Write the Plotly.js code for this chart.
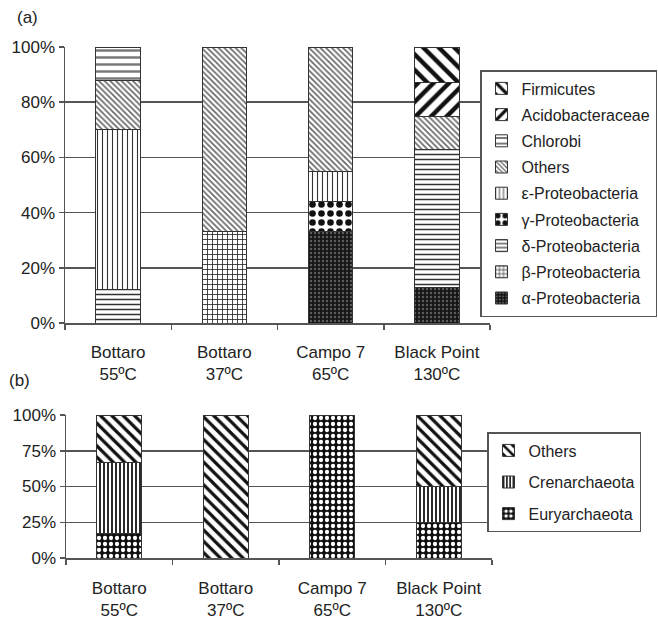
<!DOCTYPE html>
<html>
<head>
<meta charset="utf-8">
<script src="https://cdn.plot.ly/plotly-3.0.1.min.js"></script>
<style>html,body{margin:0;padding:0;background:#fff;}#chart{width:658px;height:621px;}</style>
</head>
<body>
<div id="chart"></div>
<script>
// ---------- data ----------
const categories = ['Bottaro<br>55ºC', 'Bottaro<br>37ºC', 'Campo 7<br>65ºC', 'Black Point<br>130ºC'];

// panel (a): bacteria, stacked bottom -> top
const alphaProteo   = [null, null, 33, 13];
const betaProteo    = [null, 33, null, null];
const deltaProteo   = [12, null, null, 50];
const gammaProteo   = [null, null, 11, null];
const epsilonProteo = [58, null, 11, null];
const othersA       = [18, 67, 45, 12];
const chlorobi      = [12, null, null, null];
const acidobact     = [null, null, null, 12];
const firmicutes    = [null, null, null, 13];

// panel (b): archaea, stacked bottom -> top
const euryarchaeota = [17, null, 100, 25];
const crenarchaeota = [50, null, null, 25];
const othersB       = [33, 100, null, 50];

const yTickValsA = [0, 20, 40, 60, 80, 100];
const yTickTextA = ['0%', '20%', '40%', '60%', '80%', '100%'];
const yTickValsB = [0, 25, 50, 75, 100];
const yTickTextB = ['0%', '25%', '50%', '75%', '100%'];

// ---------- styles ----------
const FONT = 'Liberation Sans, Arial, sans-serif';
const TXT = '#222';
function bar(name, y, pat, xa, ya, leg, rank) {
  return {
    type: 'bar', name: name, x: categories, y: y,
    xaxis: xa, yaxis: ya, legend: leg, legendgroup: leg + '_' + rank, legendrank: rank,
    marker: {color: pat.bg, line: {color: '#333', width: 1}, pattern: pat.p},
    hoverinfo: 'skip'
  };
}
function P(shape, fg, bg, size, solidity) {
  return {bg: bg, p: {shape: shape, fgcolor: fg, bgcolor: bg, size: size, solidity: solidity, fillmode: 'replace'}};
}

const traces = [
  bar('α-Proteobacteria', alphaProteo,   P('.', '#5a5a5a', '#151515', 4, 0.3), 'x', 'y', 'legend', 9),
  bar('β-Proteobacteria', betaProteo,    P('+', '#222', '#fff', 5, 0.3), 'x', 'y', 'legend', 8),
  bar('δ-Proteobacteria', deltaProteo,   P('-', '#333', '#fff', 5, 0.3), 'x', 'y', 'legend', 7),
  bar('γ-Proteobacteria', gammaProteo,   P('.', '#111', '#fff', 9, 0.42), 'x', 'y', 'legend', 6),
  bar('ε-Proteobacteria', epsilonProteo, P('|', '#333', '#fff', 5, 0.22), 'x', 'y', 'legend', 5),
  bar('Others',           othersA,       P('\\', '#666', '#fff', 4, 0.4), 'x', 'y', 'legend', 4),
  bar('Chlorobi',         chlorobi,      P('-', '#777', '#fff', 7, 0.35), 'x', 'y', 'legend', 3),
  bar('Acidobacteraceae', acidobact,     P('/', '#111', '#fff', 11, 0.4), 'x', 'y', 'legend', 2),
  bar('Firmicutes',       firmicutes,    P('\\', '#111', '#fff', 11, 0.4), 'x', 'y', 'legend', 1),

  bar('Euryarchaeota', euryarchaeota, P('.', '#fff', '#111', 6, 0.4), 'x2', 'y2', 'legend2', 3),
  bar('Crenarchaeota', crenarchaeota, P('|', '#111', '#fff', 4, 0.45), 'x2', 'y2', 'legend2', 2),
  bar('Others',        othersB,       P('\\', '#111', '#fff', 8, 0.4), 'x2', 'y2', 'legend2', 1)
];

const W = 658, H = 621;
const xAxisCommon = {
  type: 'category', range: [-0.5, 3.5], showline: true, linecolor: '#555', linewidth: 1.5,
  ticks: 'outside', tickson: 'boundaries', ticklen: 5, tickcolor: '#555', tickwidth: 1.5,
  showgrid: false, zeroline: false,
  tickfont: {family: FONT, size: 17, color: TXT}, fixedrange: true
};
const yAxisCommon = {
  range: [0, 100], showline: true, linecolor: '#555', linewidth: 1.5,
  ticks: 'outside', ticklen: 5, tickcolor: '#555', tickwidth: 1.5,
  showgrid: true, gridcolor: '#555', gridwidth: 1.5, zeroline: false,
  tickfont: {family: FONT, size: 17, color: TXT}, fixedrange: true
};

const layout = {
  width: W, height: H,
  margin: {l: 0, r: 0, t: 0, b: 0, autoexpand: false},
  paper_bgcolor: '#fff', plot_bgcolor: 'rgba(0,0,0,0)',
  barmode: 'stack', bargap: 0.58,
  font: {family: FONT, size: 17, color: TXT},
  xaxis: Object.assign({}, xAxisCommon, {domain: [65 / W, 490 / W], anchor: 'y', ticklabelstandoff: 13}),
  yaxis: Object.assign({}, yAxisCommon, {domain: [1 - 323 / H, 1 - 47 / H], anchor: 'x', tickvals: yTickValsA, ticktext: yTickTextA}),
  xaxis2: Object.assign({}, xAxisCommon, {domain: [66 / W, 492 / W], anchor: 'y2', ticklabelstandoff: 14}),
  yaxis2: Object.assign({}, yAxisCommon, {domain: [1 - 558 / H, 1 - 415 / H], anchor: 'x2', tickvals: yTickValsB, ticktext: yTickTextB}),
  legend: {
    x: 480 / W, y: 1 - 70 / H, xanchor: 'left', yanchor: 'top',
    traceorder: 'grouped', tracegroupgap: 2.4, bgcolor: '#fff', bordercolor: '#555', borderwidth: 1.5,
    font: {family: FONT, size: 16, color: TXT}, itemclick: false, itemdoubleclick: false
  },
  legend2: {
    x: 487 / W, y: 1 - 432 / H, xanchor: 'left', yanchor: 'top',
    traceorder: 'grouped', tracegroupgap: 7.8, bgcolor: '#fff', bordercolor: '#555', borderwidth: 1.5,
    font: {family: FONT, size: 16, color: TXT}, itemclick: false, itemdoubleclick: false
  },
  annotations: [
    {text: '(a)', x: 15 / W, y: 1 - 17 / H, xref: 'paper', yref: 'paper', xanchor: 'left', yanchor: 'middle', showarrow: false, font: {family: FONT, size: 17, color: TXT}},
    {text: '(b)', x: 7 / W, y: 1 - 380 / H, xref: 'paper', yref: 'paper', xanchor: 'left', yanchor: 'middle', showarrow: false, font: {family: FONT, size: 17, color: TXT}}
  ]
};

Plotly.newPlot('chart', traces, layout, {displayModeBar: false, staticPlot: true});
</script>
</body>
</html>
